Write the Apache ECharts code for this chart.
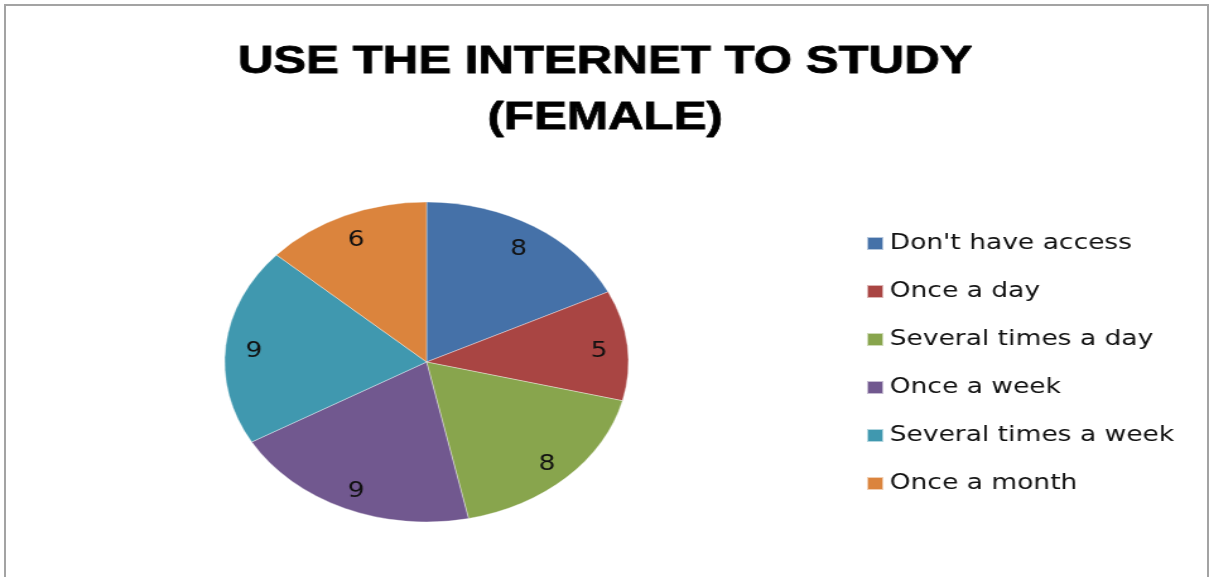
<!DOCTYPE html>
<html>
<head>
<meta charset="utf-8">
<title>Use the Internet to Study (Female)</title>
<script src="https://cdn.jsdelivr.net/npm/echarts@6/dist/echarts.min.js"></script>
<style>
  html, body { margin: 0; padding: 0; background: #ffffff; overflow: hidden; }
  #wrap { position: relative; width: 1210px; height: 577px; overflow: hidden; background: #fff; }
  #frame {
    position: absolute; left: 4px; top: 4px; right: 1px; bottom: -10px;
    border-left: 2px solid #a3a3a3; border-top: 2px solid #a3a3a3; border-right: 2px solid #a3a3a3;
  }
  /* the chart is drawn narrower and widened horizontally */
  #chart {
    position: absolute; left: 0; top: 0; width: 959px; height: 577px;
    transform: scaleX(1.262); transform-origin: 0 0;
  }
</style>
</head>
<body>
<div id="wrap">
  <div id="chart"></div>
  <div id="frame"></div>
</div>
<script>
const titleLines = ['USE THE INTERNET TO STUDY', '(FEMALE)'];
const categories = ['Don\'t have access', 'Once a day', 'Several times a day', 'Once a week', 'Several times a week', 'Once a month'];
const counts = [8, 5, 8, 9, 9, 6];
const sliceColors = ['#4571a8', '#a94543', '#88a54d', '#71588f', '#4098af', '#db843d'];

const pieData = categories.map((name, i) => ({ name: name, value: counts[i], itemStyle: { color: sliceColors[i] } }));
const labelData = categories.map((name, i) => ({ name: name, value: counts[i] }));

const chart = echarts.init(document.getElementById('chart'), null, { renderer: 'canvas' });
chart.setOption({
  animation: false,
  backgroundColor: 'transparent',
  title: {
    text: titleLines.join('\n'),
    left: 'center',
    top: 29,
    textStyle: {
      fontFamily: 'Liberation Sans, Arial, sans-serif',
      fontWeight: 'bold',
      fontSize: 39,
      lineHeight: 56,
      color: '#000000',
      textBorderColor: '#000000',
      textBorderWidth: 0.8
    }
  },
  legend: {
    orient: 'vertical',
    left: 686,
    top: 233,
    padding: 0,
    itemWidth: 13,
    itemHeight: 13,
    itemGap: 27,
    icon: 'rect',
    data: categories,
    selectedMode: false,
    textStyle: {
      fontFamily: 'DejaVu Sans, Verdana, sans-serif',
      fontSize: 21,
      lineHeight: 21,
      color: '#111111'
    }
  },
  series: [
    {
      name: 'slices',
      type: 'pie',
      center: [338, 362],
      radius: [0, 160],
      startAngle: 90,
      clockwise: true,
      silent: true,
      label: { show: false },
      labelLine: { show: false },
      itemStyle: { borderColor: 'rgba(255,255,255,0.6)', borderWidth: 0.6 },
      data: pieData
    },
    {
      // transparent ring that carries the value labels near the rim
      name: 'values',
      type: 'pie',
      center: [338, 362],
      radius: [109, 160],
      startAngle: 90,
      clockwise: true,
      silent: true,
      legendHoverLink: false,
      itemStyle: { color: 'rgba(0,0,0,0)', borderWidth: 0 },
      label: {
        show: true,
        position: 'inside',
        formatter: '{c}',
        offset: [0, 4],
        fontFamily: 'DejaVu Sans, Verdana, sans-serif',
        fontSize: 21,
        color: '#111111'
      },
      labelLine: { show: false },
      data: labelData
    }
  ]
});
</script>
</body>
</html>
